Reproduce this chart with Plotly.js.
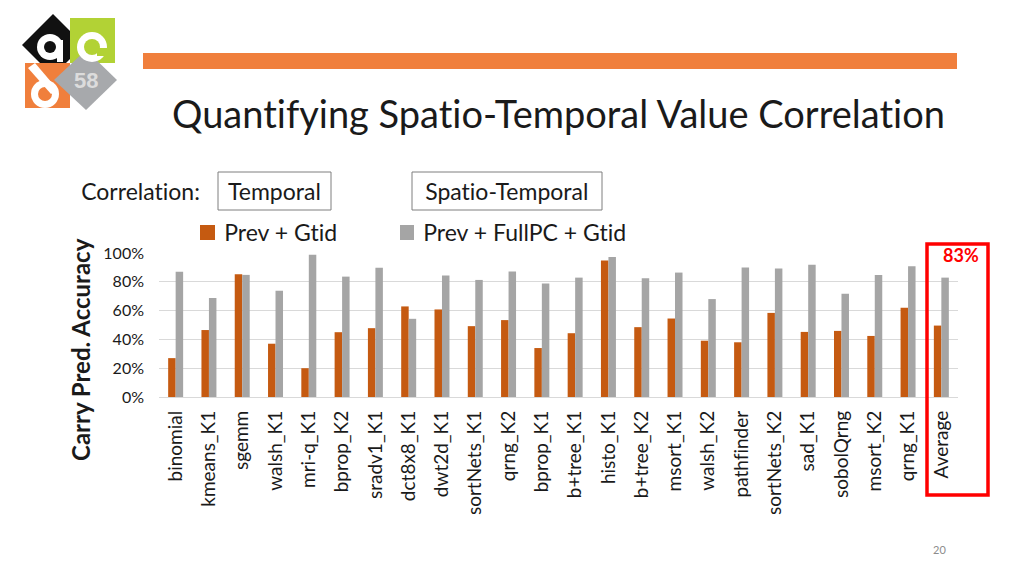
<!DOCTYPE html>
<html>
<head>
<meta charset="utf-8">
<script src="https://cdn.plot.ly/plotly-3.0.1.min.js"></script>
<style>
html,body{margin:0;padding:0;background:#fff;}
#chart{width:1024px;height:576px;}
#chart text{font-variant-ligatures:none;font-feature-settings:"liga" 0, "clig" 0;}
</style>
</head>
<body>
<div id="chart"></div>
<script>
// ---- data ----
const categories = ["binomial","kmeans_K1","sgemm","walsh_K1","mri-q_K1","bprop_K2","sradv1_K1","dct8x8_K1","dwt2d_K1","sortNets_K1","qrng_K2","bprop_K1","b+tree_K1","histo_K1","b+tree_K2","msort_K1","walsh_K2","pathfinder","sortNets_K2","sad_K1","sobolQrng","msort_K2","qrng_K1","Average"];
const prevGtid = [0.27,0.465,0.852,0.37,0.20,0.45,0.478,0.629,0.608,0.492,0.534,0.34,0.443,0.948,0.485,0.545,0.391,0.38,0.584,0.452,0.459,0.424,0.619,0.496];
const prevFullPCGtid = [0.869,0.687,0.848,0.738,0.987,0.836,0.897,0.543,0.843,0.813,0.871,0.789,0.829,0.973,0.824,0.864,0.68,0.899,0.892,0.918,0.717,0.848,0.908,0.829];
const yTicks = [0,0.2,0.4,0.6,0.8,1.0];
const yTickLabels = ["0%","20%","40%","60%","80%","100%"];
const seriesNames = ["Prev + Gtid","Prev + FullPC + Gtid"];
const seriesColors = ["#C55A11","#A5A5A5"];

// ---- geometry helpers (pixel -> paper) ----
const W = 1024, H = 576;
const mL = 159, mR = 66, mT = 253, mB = 179;
const pw = W - mL - mR, ph = H - mT - mB;
const px = x => (x - mL) / pw;
const py = y => (H - mB - y) / ph;

const FONT = "Lato, 'Open Sans', sans-serif";

const traces = [
  {type:"bar", x:categories, y:prevGtid, name:seriesNames[0], marker:{color:seriesColors[0]}, hoverinfo:"x+y"},
  {type:"bar", x:categories, y:prevFullPCGtid, name:seriesNames[1], marker:{color:seriesColors[1]}, hoverinfo:"x+y"}
];

const shapes = [
  // top orange bar
  {type:"rect", xref:"paper", yref:"paper", x0:px(143), x1:px(957), y0:py(53), y1:py(69), fillcolor:"#F07F3C", line:{width:0}, layer:"above"},
  // logo: black diamond
  {type:"path", xref:"paper", yref:"paper", path:`M ${px(22)} ${py(45)} L ${px(53)} ${py(14)} L ${px(84)} ${py(45)} L ${px(53)} ${py(76)} Z`, fillcolor:"#111111", line:{width:0}},
  // lime square
  {type:"rect", xref:"paper", yref:"paper", x0:px(70), x1:px(115), y0:py(18), y1:py(63), fillcolor:"#B2D235", line:{width:0}},
  // orange square
  {type:"rect", xref:"paper", yref:"paper", x0:px(25), x1:px(70), y0:py(63), y1:py(108), fillcolor:"#F07F3C", line:{width:0}},
  // gray diamond
  {type:"path", xref:"paper", yref:"paper", path:`M ${px(54)} ${py(80)} L ${px(86)} ${py(50)} L ${px(117)} ${py(80)} L ${px(86)} ${py(110)} Z`, fillcolor:"#A7A9AC", line:{width:0}},
  // white ring in black diamond
  {type:"circle", xref:"paper", yref:"paper", x0:px(37), x1:px(63), y0:py(34), y1:py(60), fillcolor:"#ffffff", line:{width:0}},
  {type:"circle", xref:"paper", yref:"paper", x0:px(44), x1:px(56), y0:py(41), y1:py(53), fillcolor:"#111111", line:{width:0}},
  {type:"rect", xref:"paper", yref:"paper", x0:px(57), x1:px(63), y0:py(40), y1:py(62), fillcolor:"#ffffff", line:{width:0}},
  // white ring in lime square
  {type:"circle", xref:"paper", yref:"paper", x0:px(77), x1:px(107), y0:py(32), y1:py(62), fillcolor:"#ffffff", line:{width:0}},
  {type:"circle", xref:"paper", yref:"paper", x0:px(84), x1:px(100), y0:py(39), y1:py(55), fillcolor:"#B2D235", line:{width:0}},
  {type:"rect", xref:"paper", yref:"paper", x0:px(97), x1:px(108), y0:py(48), y1:py(56), fillcolor:"#B2D235", line:{width:0}},
  // white ring in orange square
  {type:"circle", xref:"paper", yref:"paper", x0:px(31), x1:px(59), y0:py(80), y1:py(108), fillcolor:"#ffffff", line:{width:0}},
  {type:"circle", xref:"paper", yref:"paper", x0:px(38), x1:px(52), y0:py(87), y1:py(101), fillcolor:"#F07F3C", line:{width:0}},
  {type:"path", xref:"paper", yref:"paper", path:`M ${px(28)} ${py(68)} L ${px(35)} ${py(63)} L ${px(58)} ${py(90)} L ${px(51)} ${py(94)} Z`, fillcolor:"#ffffff", line:{width:0}},
  // boxes
  {type:"rect", xref:"paper", yref:"paper", x0:px(218), x1:px(331), y0:py(172), y1:py(210), line:{color:"#7f7f7f", width:1}, fillcolor:"rgba(0,0,0,0)"},
  {type:"rect", xref:"paper", yref:"paper", x0:px(412), x1:px(602), y0:py(172), y1:py(210), line:{color:"#7f7f7f", width:1}, fillcolor:"rgba(0,0,0,0)"},
  // legend swatches
  {type:"rect", xref:"paper", yref:"paper", x0:px(200), x1:px(215), y0:py(225), y1:py(240), fillcolor:seriesColors[0], line:{width:0}},
  {type:"rect", xref:"paper", yref:"paper", x0:px(400), x1:px(414), y0:py(225), y1:py(240), fillcolor:seriesColors[1], line:{width:0}},
  // red highlight box
  {type:"rect", xref:"paper", yref:"paper", x0:px(927), x1:px(988), y0:py(244), y1:py(495), line:{color:"#FF0000", width:3.5}, fillcolor:"rgba(0,0,0,0)"}
];

const annotations = [
  {xref:"paper", yref:"paper", x:px(558), y:py(113), text:"Quantifying Spatio-Temporal Value Correlation", showarrow:false, xanchor:"center", yanchor:"middle", font:{family:FONT, size:38, color:"#1a1a1a"}},
  {xref:"paper", yref:"paper", x:px(86), y:py(80), text:"<b>58</b>", showarrow:false, xanchor:"center", yanchor:"middle", font:{family:"'Liberation Sans', Arial, sans-serif", size:22, color:"#DCDCDC"}},
  {xref:"paper", yref:"paper", x:px(79), y:py(191), text:"Correlation:", showarrow:false, xanchor:"left", yanchor:"middle", font:{family:FONT, size:23, color:"#1a1a1a"}},
  {xref:"paper", yref:"paper", x:px(274.5), y:py(191), text:"Temporal", showarrow:false, xanchor:"center", yanchor:"middle", font:{family:FONT, size:23, color:"#1a1a1a"}},
  {xref:"paper", yref:"paper", x:px(507), y:py(191), text:"Spatio-Temporal", showarrow:false, xanchor:"center", yanchor:"middle", font:{family:FONT, size:23, color:"#1a1a1a"}},
  {xref:"paper", yref:"paper", x:px(222), y:py(232), text:seriesNames[0], showarrow:false, xanchor:"left", yanchor:"middle", font:{family:FONT, size:23, color:"#1a1a1a"}},
  {xref:"paper", yref:"paper", x:px(421), y:py(232), text:seriesNames[1], showarrow:false, xanchor:"left", yanchor:"middle", font:{family:FONT, size:23, color:"#1a1a1a"}},
  {xref:"paper", yref:"paper", x:px(80), y:py(350), text:"<b>Carry Pred. Accuracy</b>", textangle:-90, showarrow:false, xanchor:"center", yanchor:"middle", font:{family:FONT, size:24, color:"#1a1a1a"}},
  {xref:"paper", yref:"paper", x:px(961), y:py(255), text:"<b>83%</b>", showarrow:false, xanchor:"center", yanchor:"middle", font:{family:FONT, size:18, color:"#FF0000"}},
  {xref:"paper", yref:"paper", x:px(939), y:py(549), text:"20", showarrow:false, xanchor:"center", yanchor:"middle", font:{family:FONT, size:11, color:"#8c8c8c"}}
];

const layout = {
  width: W, height: H,
  margin:{l:mL, r:mR, t:mT, b:mB, pad:0},
  paper_bgcolor:"#ffffff", plot_bgcolor:"#ffffff",
  showlegend:false,
  barmode:"group", bargap:0.55, bargroupgap:0,
  xaxis:{type:"category", tickangle:-90, tickfont:{family:FONT, size:19, color:"#1a1a1a"}, showgrid:false, showline:false, zeroline:false, ticks:"", ticklabelstandoff:9, fixedrange:true},
  yaxis:{range:[0,1.0], tickvals:yTicks, ticktext:yTickLabels, tickfont:{family:FONT, size:16, color:"#1a1a1a"}, showgrid:true, gridcolor:"#D9D9D9", gridwidth:1, zeroline:true, zerolinecolor:"#D9D9D9", zerolinewidth:1, showline:false, ticks:"", ticklabelstandoff:14, fixedrange:true},
  shapes: shapes,
  annotations: annotations
};

Plotly.newPlot("chart", traces, layout, {displayModeBar:false, staticPlot:true});
</script>
</body>
</html>
